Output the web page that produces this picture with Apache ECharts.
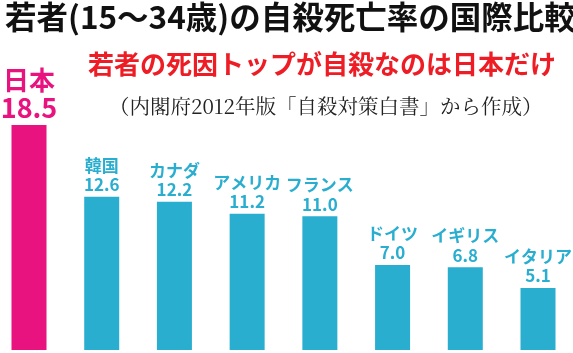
<!DOCTYPE html>
<html>
<head>
    <meta charset="utf-8">
    <title>ECharts</title>
    <script src="https://cdn.jsdelivr.net/npm/echarts@6/dist/echarts.min.js"></script>
    <style>
        html, body { margin: 0; padding: 0; background: #fff; }
    </style>
</head>
<body>
    <div id="main" style="width: 573px;height:353px;"></div>
    <script type="text/javascript">
        var myChart = echarts.init(document.getElementById('main'));

        // 国名と自殺死亡率（人口10万人あたり）
        var countries = ['日本', '韓国', 'カナダ', 'アメリカ', 'フランス', 'ドイツ', 'イギリス', 'イタリア'];
        var rates = [18.5, 12.6, 12.2, 11.2, 11.0, 7.0, 6.8, 5.1];

        var pink = '#e9137f';
        var blue = '#2aaed0';
        var font = '"Noto Sans CJK JP", sans-serif';

        var seriesData = [];
        for (var i = 0; i < rates.length; i++) {
            var isJapan = i === 0;
            seriesData.push({
                value: rates[i],
                itemStyle: { color: isJapan ? pink : blue },
                label: {
                    distance: isJapan ? 4 : 3,
                    rich: isJapan ? {
                        n: { fontSize: 26, fontWeight: 'bold', color: pink, fontFamily: font, lineHeight: 27 },
                        v: { fontSize: 27, fontWeight: 'bold', color: pink, fontFamily: font, lineHeight: 27 }
                    } : {
                        n: { fontSize: 17, fontWeight: 'bold', color: blue, fontFamily: font, lineHeight: 21 },
                        v: { fontSize: 17, fontWeight: 'bold', color: blue, fontFamily: font, lineHeight: 18 }
                    }
                }
            });
        }

        option = {
            backgroundColor: '#fff',
            animation: false,
            title: [{
                text: '若者(15～34歳)の自殺死亡率の国際比較',
                left: 0,
                top: -4,
                textStyle: { fontSize: 31.5, fontWeight: 'bold', color: '#111', fontFamily: font }
            }, {
                text: '若者の死因トップが自殺なのは日本だけ',
                left: 83,
                top: 46,
                textStyle: { fontSize: 26, fontWeight: 'bold', color: '#ee1c24', fontFamily: font }
            }, {
                text: '（内閣府2012年版「自殺対策白書」から作成）',
                left: 104,
                top: 91,
                textStyle: { fontSize: 20.5, fontWeight: 'normal', color: '#222', fontFamily: '"Noto Serif CJK JP", "DejaVu Serif", serif' }
            }],
            grid: {
                left: 29,
                right: 35,
                top: 46,
                bottom: 3
            },
            xAxis: {
                type: 'category',
                data: countries,
                boundaryGap: false,
                show: false
            },
            yAxis: {
                type: 'value',
                min: 0,
                max: 25,
                show: false
            },
            series: [{
                type: 'bar',
                barWidth: 35,
                data: seriesData,
                label: {
                    show: true,
                    position: 'top',
                    formatter: function (p) {
                        return '{n|' + p.name + '}\n{v|' + p.value.toFixed(1) + '}';
                    }
                }
            }]
        };

        myChart.setOption(option);
    </script>
</body>
</html>
